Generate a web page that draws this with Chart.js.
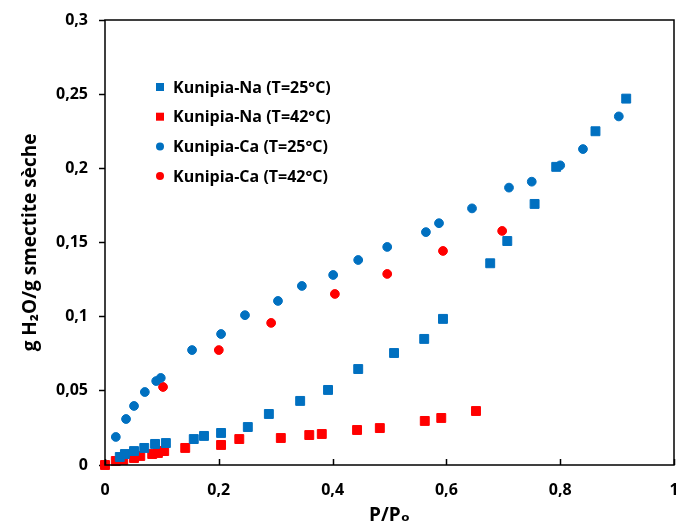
<!DOCTYPE html>
<html>
<head>
<meta charset="utf-8">
<script src="https://cdn.jsdelivr.net/npm/chart.js@4/dist/chart.umd.min.js"></script>
<style>
  html, body { margin: 0; padding: 0; background: #fff; }
  #wrap { width: 676px; height: 528px; }
</style>
</head>
<body>
<div id="wrap"><canvas id="c" width="676" height="528"></canvas></div>
<script>
const seriesNames = ["Kunipia-Na (T=25°C)", "Kunipia-Na (T=42°C)", "Kunipia-Ca (T=25°C)", "Kunipia-Ca (T=42°C)"];

const na25P = [0.026, 0.035, 0.051, 0.069, 0.088, 0.107, 0.156, 0.174, 0.204, 0.251, 0.288, 0.343, 0.392, 0.445, 0.508, 0.561, 0.594, 0.677, 0.707, 0.755, 0.793, 0.862, 0.916];
const na25W = [0.0054, 0.0074, 0.0094, 0.0115, 0.0142, 0.0148, 0.0175, 0.0196, 0.0216, 0.0256, 0.0344, 0.0432, 0.0506, 0.0647, 0.0755, 0.085, 0.0985, 0.136, 0.151, 0.176, 0.201, 0.225, 0.247];

const na42P = [0, 0.019, 0.032, 0.051, 0.062, 0.083, 0.093, 0.104, 0.141, 0.204, 0.236, 0.309, 0.359, 0.381, 0.443, 0.483, 0.562, 0.591, 0.652];
const na42W = [0, 0.0027, 0.0034, 0.0047, 0.0061, 0.0074, 0.0081, 0.0094, 0.0115, 0.0135, 0.0175, 0.0182, 0.0202, 0.0209, 0.0236, 0.0249, 0.0297, 0.0317, 0.0364];

const ca25P = [0.019, 0.037, 0.051, 0.070, 0.090, 0.098, 0.153, 0.204, 0.246, 0.304, 0.346, 0.401, 0.445, 0.496, 0.564, 0.587, 0.645, 0.710, 0.750, 0.800, 0.840, 0.903];
const ca25W = [0.0189, 0.031, 0.0398, 0.0492, 0.0566, 0.0587, 0.0775, 0.0883, 0.101, 0.1106, 0.1207, 0.1281, 0.1382, 0.147, 0.157, 0.163, 0.173, 0.187, 0.191, 0.202, 0.213, 0.235];

const ca42P = [0.102, 0.200, 0.292, 0.404, 0.496, 0.594, 0.698];
const ca42W = [0.0526, 0.0775, 0.0958, 0.1153, 0.1288, 0.1443, 0.1578];

const xTicks = [0, 0.2, 0.4, 0.6, 0.8, 1];
const yTicks = [0, 0.05, 0.1, 0.15, 0.2, 0.25, 0.3];

const BLUE = '#0070C0';
const RED = '#FF0000';
const FONT = "'Open Sans', 'DejaVu Sans', sans-serif";

function pts(xs, ys) { return xs.map((x, i) => ({ x: x, y: ys[i] })); }
function comma(v) { return String(+v.toFixed(2)).replace('.', ','); }

function makeSet(label, xs, ys, color, style) {
  return {
    label: label,
    data: pts(xs, ys),
    pointStyle: style,
    pointRadius: style === 'rect' ? 6.3 : 4.4,
    pointBackgroundColor: color,
    pointBorderColor: color,
    pointBorderWidth: 1,
    showLine: false,
    clip: false
  };
}

// frame + inward x ticks + legend inside the plot
const extras = {
  id: 'extras',
  afterDraw(chart) {
    const ctx = chart.ctx, a = chart.chartArea;
    ctx.save();
    ctx.strokeStyle = '#000';
    ctx.lineWidth = 1.5;
    ctx.strokeRect(a.left, a.top, a.right - a.left, a.bottom - a.top);

    const xs = chart.scales.x;
    ctx.beginPath();
    xTicks.forEach(t => {
      const px = Math.round(xs.getPixelForValue(t)) + 0.5;
      ctx.moveTo(px, a.bottom);
      ctx.lineTo(px, a.bottom - 6);
    });
    ctx.stroke();

    // legend
    const lx = 160, ly = 87, gap = 29.7;
    ctx.font = "bold 16px " + FONT;
    ctx.textBaseline = 'middle';
    chart.data.datasets.forEach((ds, i) => {
      const y = ly + i * gap;
      ctx.fillStyle = ds.pointBackgroundColor;
      if (ds.pointStyle === 'rect') {
        ctx.fillRect(lx - 4, y - 4, 8, 8);
      } else {
        ctx.beginPath();
        ctx.arc(lx, y, 4, 0, Math.PI * 2);
        ctx.fill();
      }
      ctx.fillStyle = '#000';
      ctx.fillText(ds.label, lx + 13, y + 1);
    });
    ctx.restore();
  }
};

new Chart(document.getElementById('c'), {
  type: 'scatter',
  data: {
    datasets: [
      makeSet(seriesNames[0], na25P, na25W, BLUE, 'rect'),
      makeSet(seriesNames[1], na42P, na42W, RED, 'rect'),
      makeSet(seriesNames[2], ca25P, ca25W, BLUE, 'circle'),
      makeSet(seriesNames[3], ca42P, ca42W, RED, 'circle')
    ]
  },
  options: {
    responsive: false,
    animation: false,
    layout: { autoPadding: false, padding: { top: 20, right: 2, left: 0, bottom: 0 } },
    plugins: { legend: { display: false }, tooltip: { enabled: false } },
    scales: {
      x: {
        type: 'linear',
        min: 0, max: 1,
        afterFit: s => { s.height = 63; s.paddingRight = 0; s.paddingLeft = 0; },
        afterBuildTicks: s => { s.ticks = xTicks.map(v => ({ value: v })); },
        grid: { drawOnChartArea: false, drawTicks: false },
        border: { display: false },
        ticks: {
          color: '#000', padding: 16, maxRotation: 0,
          font: { family: FONT, size: 16, weight: 'bold' },
          callback: v => comma(v)
        },
        title: {
          display: true, text: 'P/Pₒ', color: '#000',
          padding: { bottom: 1 },
          font: { family: FONT, size: 19, weight: 'bold' }
        }
      },
      y: {
        type: 'linear',
        min: 0, max: 0.3,
        afterFit: s => { s.width = 105; s.paddingTop = 0; s.paddingBottom = 0; },
        afterBuildTicks: s => { s.ticks = yTicks.map(v => ({ value: v })); },
        grid: { drawOnChartArea: false, drawTicks: true, tickLength: 6, tickColor: '#000', tickWidth: 1.5 },
        border: { display: false },
        ticks: {
          color: '#000', padding: 11,
          font: { family: FONT, size: 16, weight: 'bold' },
          callback: v => comma(v)
        },
        title: {
          display: true, text: 'g H₂O/g smectite sèche', color: '#000',
          padding: { top: 19 },
          font: { family: FONT, size: 19, weight: 'bold' }
        }
      }
    }
  },
  plugins: [extras]
});
</script>
</body>
</html>
